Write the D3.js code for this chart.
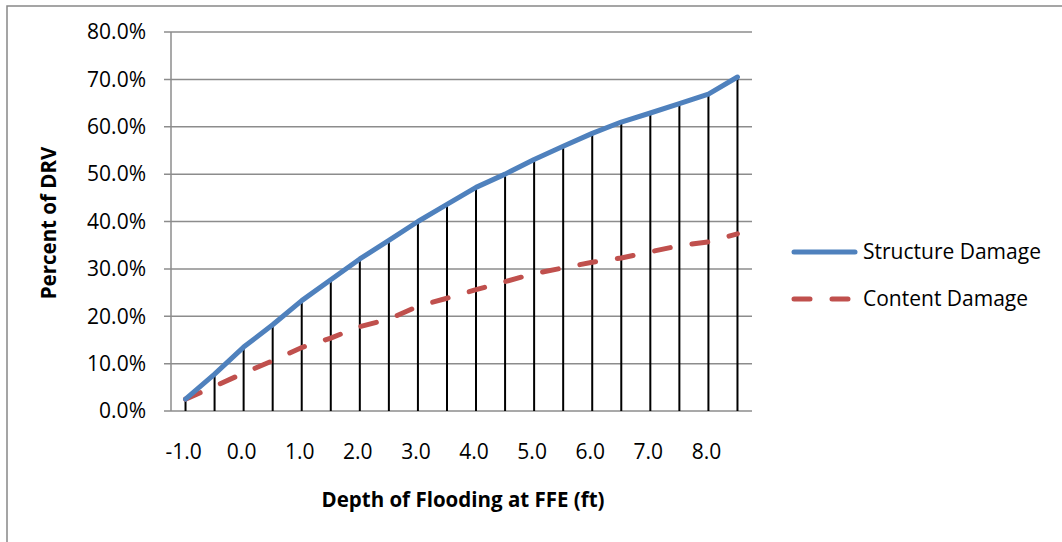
<!DOCTYPE html>
<html>
<head>
<meta charset="utf-8">
<script src="https://cdn.jsdelivr.net/npm/d3@7"></script>
<style>
  body { margin: 0; background: #fff; }
  text { font-family: "Open Sans", Lato, sans-serif; fill: #000; }
</style>
</head>
<body>
<script>
// depth of flooding at FFE (ft)
var depths = ["-1.0","-0.5","0.0","0.5","1.0","1.5","2.0","2.5","3.0","3.5",
              "4.0","4.5","5.0","5.5","6.0","6.5","7.0","7.5","8.0","8.5"]
var structure = [0.025,0.078,0.135,0.182,0.233,0.277,0.321,0.360,0.400,0.436,
                 0.472,0.500,0.531,0.559,0.586,0.610,0.629,0.649,0.669,0.705]
var content = [0.025,0.052,0.080,0.106,0.134,0.154,0.178,0.194,0.221,0.238,
               0.256,0.273,0.290,0.302,0.314,0.323,0.336,0.349,0.357,0.374]
var yTicks = [0,0.1,0.2,0.3,0.4,0.5,0.6,0.7,0.8]
var xLabels = ["-1.0","0.0","1.0","2.0","3.0","4.0","5.0","6.0","7.0","8.0"]

var W = 1062, H = 542
var pLeft = 171, pRight = 752, pTop = 32, pBottom = 411

var svg = d3.select("body").append("svg")
  .attr("width", W).attr("height", H)

// outer chart frame (runs off the picture right and bottom)
svg.append("rect")
  .attr("x", 7).attr("y", 6)
  .attr("width", W + 20).attr("height", H + 20)
  .attr("fill", "#fff").attr("stroke", "#888").attr("stroke-width", 1.5)

var x = d3.scalePoint().domain(depths).range([pLeft, pRight]).padding(0.5)
var y = d3.scaleLinear().domain([0, 0.8]).range([pBottom, pTop])

// gridlines
svg.selectAll(".grid").data(yTicks).enter()
  .append("line")
  .attr("x1", pLeft - 7).attr("x2", pRight)
  .attr("y1", function(d) { return y(d) }).attr("y2", function(d) { return y(d) })
  .attr("stroke", "#8c8c8c").attr("stroke-width", 1.5)

// y axis line
svg.append("line")
  .attr("x1", pLeft).attr("x2", pLeft)
  .attr("y1", pTop).attr("y2", pBottom)
  .attr("stroke", "#8c8c8c").attr("stroke-width", 1.5)

// y tick labels
svg.selectAll(".ylab").data(yTicks).enter()
  .append("text")
  .attr("x", 146).attr("y", function(d) { return y(d) })
  .attr("dy", "0.35em")
  .attr("text-anchor", "end")
  .attr("font-size", "21px")
  .text(function(d) { return d3.format(".1%")(d) })

// x tick labels (every other category)
svg.selectAll(".xlab").data(xLabels).enter()
  .append("text")
  .attr("x", function(d) { return x(d) - 2 })
  .attr("y", 452).attr("dy", "0.35em")
  .attr("text-anchor", "middle")
  .attr("font-size", "21px")
  .text(function(d) { return d })

// drop lines
svg.selectAll(".drop").data(depths).enter()
  .append("line")
  .attr("x1", function(d) { return x(d) }).attr("x2", function(d) { return x(d) })
  .attr("y1", function(d, i) { return y(structure[i]) })
  .attr("y2", pBottom)
  .attr("stroke", "#000").attr("stroke-width", 2)

var line = d3.line()
  .x(function(d, i) { return x(depths[i]) })
  .y(function(d) { return y(d) })

svg.append("path")
  .attr("d", line(content))
  .attr("fill", "none").attr("stroke", "#C0504D").attr("stroke-width", 5)
  .attr("stroke-linecap", "round").attr("stroke-dasharray", "16,22")

svg.append("path")
  .attr("d", line(structure))
  .attr("fill", "none").attr("stroke", "#4F81BD").attr("stroke-width", 5)
  .attr("stroke-linejoin", "round").attr("stroke-linecap", "round")

// axis titles
svg.append("text")
  .attr("transform", "translate(56,223) rotate(-90)")
  .attr("text-anchor", "middle")
  .attr("font-size", "20.5px").attr("font-weight", "bold")
  .text("Percent of DRV")

svg.append("text")
  .attr("x", 463).attr("y", 500).attr("dy", "0.35em")
  .attr("text-anchor", "middle")
  .attr("font-size", "20.5px").attr("font-weight", "bold")
  .text("Depth of Flooding  at FFE (ft)")

// legend
var legend = [
  {name: "Structure Damage", color: "#4F81BD", dash: null, y: 252},
  {name: "Content Damage", color: "#C0504D", dash: "16,22", y: 299}
]
legend.forEach(function(l) {
  svg.append("line")
    .attr("x1", 794).attr("x2", 855)
    .attr("y1", l.y).attr("y2", l.y)
    .attr("stroke", l.color).attr("stroke-width", 5)
    .attr("stroke-linecap", "round")
    .attr("stroke-dasharray", l.dash)
  svg.append("text")
    .attr("x", 863).attr("y", l.y).attr("dy", "0.35em")
    .attr("font-size", "21px")
    .text(l.name)
})
</script>
</body>
</html>
